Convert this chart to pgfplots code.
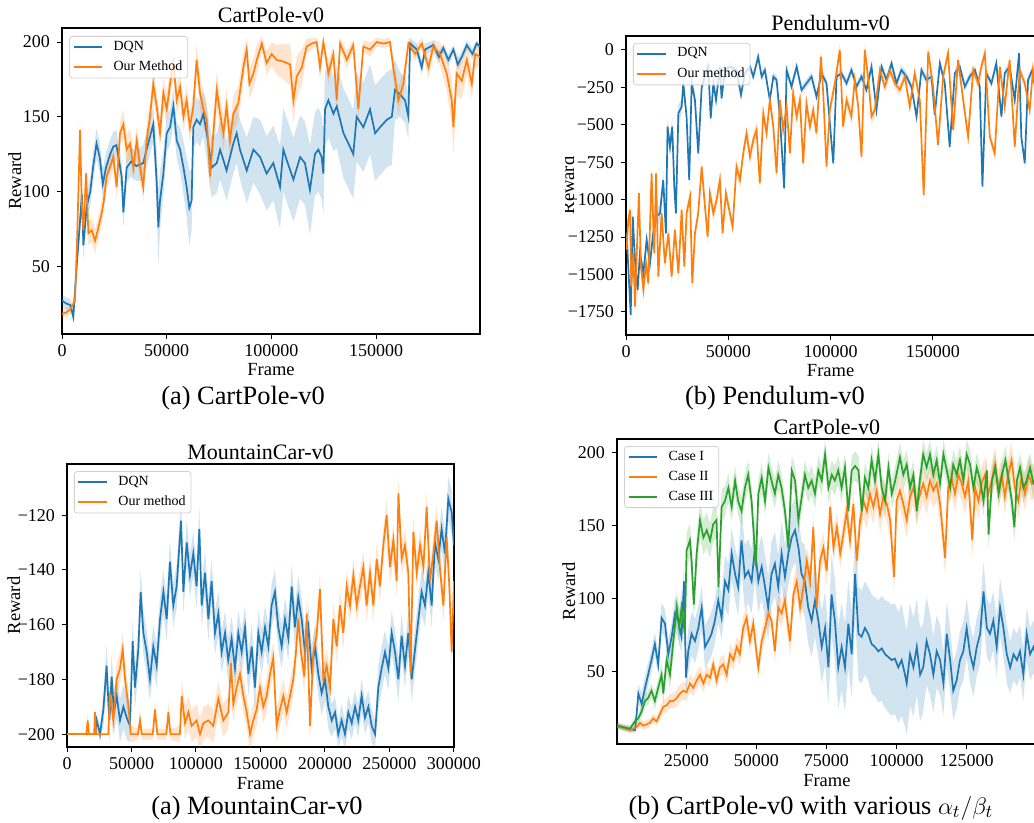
\documentclass[border=0pt]{standalone}
\usepackage{pgfplots}
\usepackage{pgfplotstable}
\pgfplotsset{compat=1.18}
\usepgfplotslibrary{fillbetween}
\usepackage{fontspec}
\setmainfont{Liberation Serif}
\definecolor{tabblue}{HTML}{1F77B4}
\definecolor{taborange}{HTML}{FF7F0E}
\definecolor{tabgreen}{HTML}{2CA02C}

% ---------------- CartPole (top left)
\pgfplotstableread{
x m e
0 27 4
2000 25 4
4000 24 4
5400 16 3
7000 50 8
8600 80 10
9500 98 10
10200 64 10
11800 90 10
13500 100 10
15000 118 10
16500 132 10
18000 123 10
19500 105 10
21000 116 10
23000 125 10
24500 130 10
26000 131 10
28500 110 10
29300 86 10
30900 116 10
33000 120 10
35500 117 10
38800 119 12
40400 128 12
43600 145 12
45200 107 20
46000 76 25
46800 94 20
48400 112 15
50000 139 12
51600 143 12
53200 157 12
54800 134 12
56400 128 15
58000 116 18
59500 103 20
60800 89 25
61900 94 20
62700 143 15
64300 148 15
65900 145 15
67500 152 15
69100 139 18
71500 116 20
73900 119 20
75500 128 20
78600 114 20
81800 132 20
83400 139 20
85000 128 20
88200 114 22
91400 128 22
94600 123 25
97700 112 25
100900 119 25
104100 103 28
105700 128 28
107300 121 28
110500 108 28
113700 123 28
116000 119 28
118400 101 30
120800 125 28
122400 128 28
124000 123 28
124800 112 28
125600 155 25
127200 161 25
129600 152 25
131200 157 28
134400 139 30
136800 132 30
139100 125 30
140700 150 30
143900 143 30
147100 155 30
149500 139 32
151900 143 32
155100 148 32
157500 150 32
159000 168 20
161400 165 15
163800 161 15
165400 150 15
166200 199 4
169400 195 4
171800 183 5
173400 195 4
177300 198 3
180000 190 4
182100 196 3
184500 188 4
186900 195 3
189000 185 4
190900 190 4
193300 198 3
196000 192 4
198000 199 2
199600 197 3
}\tabAdqn
\pgfplotstableread{
x m e
0 18 3
2000 19 3
4000 21 3
6200 27 4
7300 72 8
8600 141 8
9400 94 8
10200 74 8
11500 112 8
12600 72 8
14200 74 8
15800 67 8
17400 76 8
18900 85 8
20000 94 8
21300 110 8
22900 116 8
24500 123 8
26100 103 8
27700 139 8
29300 145 10
30900 128 10
32500 132 10
34100 116 10
35700 134 10
37300 116 10
38800 103 10
40400 134 10
42000 150 10
43600 172 10
45200 157 10
46800 139 10
48400 166 10
50000 155 10
51600 172 10
53200 186 10
54800 161 10
56400 170 10
58000 150 10
59500 161 10
61100 143 10
62700 157 10
64300 188 10
65900 166 12
67500 155 12
69100 148 12
70700 110 12
72000 134 12
73900 168 12
75500 152 12
77100 139 12
78600 157 12
80200 134 12
81800 152 12
84200 159 12
86600 183 10
88200 195 8
89500 172 10
91400 179 10
93000 188 10
95400 199 5
97700 186 8
100100 192 8
102500 188 10
105700 187 12
108900 185 14
110500 161 15
112100 177 14
114500 183 12
116800 197 5
119200 199 4
121600 200 3
123200 183 8
124800 200 3
127200 179 8
129600 192 6
131200 161 10
132800 199 4
136000 188 6
139100 198 4
141500 155 10
143900 197 4
147100 195 5
150300 200 3
153400 199 3
156600 200 3
158200 183 8
160600 161 10
163000 172 8
165400 199 4
168600 192 5
171800 199 4
175000 183 8
177300 197 5
180500 192 8
183700 179 12
186100 161 15
186900 143 18
188500 179 15
190900 174 12
193300 188 10
195700 172 10
197300 192 8
199600 190 8
}\tabAour

% ---------------- Pendulum
\pgfplotstableread{
x m e
300 -1225 60
1100 -1447 60
2300 -1770 60
3300 -1113 60
4400 -1403 60
5700 -1603 60
6800 -1358 60
8500 -1492 60
10100 -1269 60
11700 -1425 60
13300 -1225 60
15000 -1113 60
16600 -1091 60
18200 -868 60
19500 -1225 60
20300 -512 60
21500 -646 60
22600 -512 60
23600 -913 60
24400 -1091 60
25600 -423 60
27200 -378 50
28000 -223 50
29600 -445 50
30900 -868 50
32100 -223 50
33700 -334 50
35300 -690 50
37000 -245 40
38600 -178 40
40200 -111 40
41400 -456 40
42700 -223 40
44000 -334 40
45900 -111 40
46700 -323 40
48400 -134 30
50800 -111 30
54000 -134 30
56200 -300 30
58100 -156 30
60600 -111 30
62200 -178 30
64600 -45 30
66300 -178 30
67900 -134 30
70300 -334 30
72000 -178 30
73600 -200 30
75200 -445 30
77300 -924 30
78500 -134 30
80900 -245 30
83400 -111 30
85800 -267 30
88200 -223 30
90700 -178 30
93100 -312 30
95600 -156 30
98000 -223 30
101300 -757 30
102900 -178 30
105300 -156 30
107800 -223 30
110200 -134 30
112700 -245 30
115100 -178 30
117500 -267 30
120000 -111 30
122400 -401 30
124900 -111 30
127300 -200 30
129800 -89 30
132200 -223 30
134600 -134 30
137100 -178 30
139500 -245 30
142000 -445 30
144400 -134 30
146800 -200 30
149300 -178 30
150900 -434 30
153400 -89 30
155800 -223 30
158200 -646 30
160700 -156 30
163100 -111 30
165600 -245 30
168000 -178 30
170500 -134 30
172900 -245 30
174200 -913 30
176100 -156 30
178600 -223 30
181000 -89 30
183500 -445 30
185100 -156 30
187500 -111 30
190000 -334 30
192100 -22 30
193200 -579 30
194900 -757 30
196500 -200 30
198600 -134 30
200000 -250 30
}\tabBdqn
\pgfplotstableread{
x m e
300 -1336 50
1100 -1136 50
2000 -1069 50
2600 -1581 50
3600 -1358 50
4400 -1715 50
5200 -1381 50
6300 -957 50
7300 -1447 50
8500 -1603 50
9800 -1425 50
10900 -1559 50
12500 -824 50
13800 -1358 50
14700 -824 50
15800 -1514 50
17400 -1091 50
19000 -1425 50
20700 -1225 50
22300 -1514 50
23900 -1202 50
25600 -1492 50
27200 -1069 50
28500 -1447 50
29600 -1091 50
31300 -980 50
32400 -1559 50
33700 -1225 50
35300 -1091 50
37000 -779 50
38600 -1047 50
39900 -1247 50
41000 -957 50
42700 -1091 50
44300 -1002 50
45900 -868 50
47200 -1225 50
48800 -957 50
50800 -1091 50
52100 -1180 50
54000 -779 50
55700 -868 50
57300 -690 50
58900 -557 50
60600 -713 50
62200 -601 50
63800 -534 50
65400 -891 50
67100 -423 50
68700 -557 50
70300 -334 50
72000 -512 50
73600 -824 50
75200 -334 50
76800 -534 50
78500 -378 50
80100 -690 50
81700 -289 50
83400 -445 50
85000 -334 50
86600 -757 50
88200 -356 50
89900 -512 50
91500 -401 50
93100 -557 50
95300 -45 50
96400 -289 50
98000 -779 50
99600 -401 50
102100 -223 50
104500 0 50
106100 -512 50
107800 -334 50
110200 -445 50
111800 -200 50
113500 -378 50
115100 -713 50
116700 0 50
118300 -178 50
120000 -445 50
121600 -401 50
124100 -134 40
126500 -245 40
129000 -134 40
131400 -223 40
133800 -267 40
136300 -178 40
138700 -378 40
141100 -156 40
143600 -334 40
145500 -969 40
147700 -11 40
150100 -245 40
152500 -635 40
155000 -178 40
157400 -22 40
159900 -534 40
162300 -67 40
164800 -334 40
167200 -579 40
169700 -134 40
172100 -223 40
173700 -111 40
175400 -22 40
177800 -579 40
180200 -690 40
182700 -111 40
185100 -378 40
187500 -67 40
190000 -646 40
192400 -134 40
194900 -223 40
197300 -401 40
198900 -134 40
200000 -250 40
}\tabBour

% ---------------- MountainCar
\pgfplotstableread{
x m e
0 -200 0
22000 -200 0
23000 -195 3
25600 -200 3
28200 -191 6
30700 -175 8
32800 -195 8
34600 -179 8
36400 -192 8
38500 -186 8
41100 -195 8
43700 -190 8
46300 -194 8
48800 -197 6
50900 -166 8
52700 -183 8
55300 -169 8
57100 -148 8
59200 -163 8
61800 -170 8
64300 -180 8
66900 -168 8
69500 -175 8
72100 -158 8
74700 -148 8
77300 -158 8
79800 -137 8
82400 -153 8
85000 -146 8
88400 -122 8
90200 -148 8
92800 -130 8
95300 -142 8
97900 -134 8
100500 -146 8
102600 -125 8
104400 -153 8
107000 -141 8
109600 -158 8
112100 -144 8
114700 -163 8
117300 -156 8
119900 -170 8
122500 -163 8
125000 -173 8
127600 -165 8
130200 -176 8
132800 -163 8
135400 -170 8
138000 -161 8
140600 -178 8
143200 -168 8
145700 -183 8
148300 -163 8
150900 -170 8
153500 -161 8
156100 -168 8
158600 -153 8
161200 -148 8
163800 -161 8
166400 -168 8
169000 -158 8
171600 -165 8
174200 -146 8
176700 -161 8
179300 -150 8
181900 -158 8
184500 -170 8
187100 -161 8
189700 -176 8
192300 -168 8
194800 -178 8
197400 -185 8
200000 -180 8
202600 -190 8
205200 -195 6
207800 -192 6
210300 -200 5
212900 -195 6
215500 -200 5
218100 -192 6
220700 -196 6
223300 -190 6
225800 -195 6
228400 -186 6
231000 -194 6
233600 -190 6
236200 -197 6
238800 -200 5
241300 -183 8
243900 -176 8
246500 -170 8
249100 -176 8
251700 -163 8
254300 -170 8
256900 -180 8
259400 -164 8
262000 -175 8
264600 -163 8
267200 -180 8
269800 -169 8
272400 -158 8
274900 -148 8
277500 -153 8
280100 -141 8
282700 -153 8
285300 -130 8
287800 -136 8
290400 -125 8
293000 -134 8
295600 -114 8
298200 -119 8
300000 -131 8
}\tabCdqn
\pgfplotstableread{
x m e
0 -200 0
15000 -200 0
16000 -195 3
17000 -200 0
21000 -200 0
21700 -192 3
22500 -200 0
32000 -200 0
33300 -185 6
35900 -195 6
38500 -180 6
41100 -176 6
43200 -169 6
45000 -180 6
47500 -189 6
49400 -200 3
55000 -200 2
56600 -195 4
58000 -200 2
66500 -200 2
68200 -191 4
70000 -200 2
77000 -200 2
78600 -192 4
80200 -200 2
87500 -200 3
88900 -186 6
91500 -196 6
94100 -192 6
96600 -197 6
100500 -195 6
103100 -200 6
105700 -196 6
109600 -195 6
113400 -197 6
117300 -187 6
121200 -195 6
125100 -192 6
127100 -174 6
128900 -189 6
131500 -183 6
134100 -178 6
136700 -186 6
139300 -192 6
141900 -200 6
144400 -195 6
147000 -191 6
149600 -183 6
152200 -190 6
154800 -186 6
157400 -178 6
159900 -172 6
162500 -197 6
165100 -191 6
167700 -186 6
170300 -192 6
172900 -186 6
175400 -180 6
177500 -170 6
179300 -158 6
181400 -170 6
184000 -179 6
185800 -156 6
188400 -197 6
191000 -170 6
193500 -164 6
196100 -147 6
198700 -180 6
201300 -175 6
203900 -183 6
206500 -158 6
209100 -168 6
211600 -153 6
214200 -163 6
216800 -146 6
219400 -153 6
222000 -142 6
224600 -153 6
227100 -146 6
229700 -139 6
232300 -153 6
234900 -141 6
237500 -153 6
240100 -136 6
242600 -146 6
245200 -131 6
247800 -120 6
250400 -139 6
253000 -129 6
255600 -144 6
256900 -112 6
259400 -136 6
262000 -131 6
264600 -141 6
266400 -178 6
268500 -126 6
271100 -141 6
273700 -131 6
276300 -139 6
278800 -117 6
281400 -144 6
284000 -134 6
286600 -122 6
289200 -140 6
291800 -153 6
294300 -128 6
296400 -146 6
298200 -170 6
300000 -144 6
}\tabCour

% ---------------- CartPole cases
\pgfplotstableread{
x m e
300 13 2
3700 11 2
6700 10 2
7300 21 4
7900 35 6
9100 28 8
10300 39 8
11400 48 8
12600 58 8
13800 69 8
15000 55 8
16200 87 10
17400 83 10
18600 62 10
19800 74 10
21000 90 12
22100 85 12
23300 74 12
24200 112 14
24900 46 14
25700 64 15
26900 76 15
28100 71 15
29300 80 15
30500 94 15
31700 67 15
32800 71 15
34000 76 15
35200 85 15
36400 99 15
37600 87 15
38800 112 18
40000 106 18
41200 131 18
42400 117 18
43500 108 20
44700 140 22
45900 115 22
47100 119 22
48300 112 22
49500 135 22
50700 112 22
51900 122 22
53100 108 22
54200 94 22
55400 117 22
56600 124 22
57800 108 22
59000 131 22
60200 115 22
61400 131 22
62600 142 22
63800 147 22
65000 135 22
66100 117 22
67300 112 25
68500 94 25
69700 85 25
70900 99 25
72100 85 25
73300 67 25
74500 80 25
75700 53 25
76800 103 28
78000 85 28
79200 53 28
80400 67 30
81600 53 30
82800 83 30
84000 62 30
85200 117 30
86400 76 32
87500 74 32
88700 80 32
89900 76 32
91100 69 34
92300 67 34
93500 64 35
94700 66 36
95900 62 37
97100 60 38
98300 58 38
99400 59 38
100600 53 38
101800 58 38
103000 48 36
103600 42 36
104800 62 35
106000 53 34
107200 67 33
108400 48 32
109500 53 30
110700 71 30
111900 62 28
113100 48 26
114300 64 25
115500 58 24
116700 42 22
117900 76 22
119100 58 22
120200 37 20
121400 44 20
122600 58 20
123800 64 20
125000 80 20
126200 62 20
127400 53 20
128600 67 20
129800 76 20
131000 105 20
132200 80 20
133300 76 20
134500 85 20
135700 67 20
136900 94 20
138100 80 20
139300 62 20
140500 53 18
141700 62 18
142900 58 18
144000 64 18
145200 48 18
146400 76 18
147600 62 18
148800 67 18
150000 60 18
}\tabDone
\pgfplotstableread{
x m e
300 13 2
4900 10 2
7300 12 2
8500 15 3
9700 13 3
10900 14 3
12000 15 3
13200 18 3
14400 16 3
15600 21 4
16800 26 4
18000 27 5
19200 30 5
20400 30 5
21600 32 6
22700 35 6
23900 37 6
25100 36 6
26300 42 6
27500 39 6
28700 44 6
29900 48 6
31100 42 6
32300 48 6
33500 46 6
34600 55 6
35800 44 6
37000 53 6
38200 55 7
39400 48 7
40600 62 7
41800 58 7
43000 67 7
44100 62 8
45300 80 8
46500 87 8
47700 71 8
48900 83 8
50100 62 8
50700 53 8
51900 71 8
53100 80 8
54300 90 8
55400 85 8
56600 64 8
57800 94 9
59000 90 9
60200 99 9
61400 80 10
62000 71 10
63200 103 10
64400 112 10
65600 94 10
66800 108 10
68000 126 10
69200 112 10
70300 149 10
71500 94 10
72700 126 10
73900 135 10
75100 119 10
76300 163 10
77500 135 10
78700 149 10
79900 131 10
81000 144 10
82200 160 10
83400 140 10
84600 165 10
85800 126 10
87000 154 12
88200 167 12
89400 160 12
90500 172 12
91700 163 12
92900 174 12
94100 158 12
95300 170 12
96500 165 12
97700 154 12
99100 115 12
100000 167 12
101200 174 12
102400 165 12
103600 154 12
104800 170 12
106000 176 12
107200 163 12
108400 172 12
109500 179 12
110700 170 12
111900 181 12
113100 174 12
114300 179 12
115500 165 12
117300 128 12
118400 176 12
119600 183 12
120800 172 12
122000 185 12
123200 179 12
124400 170 12
125600 181 12
127000 140 12
128000 176 12
129200 167 12
130300 179 12
131500 185 12
132700 172 12
133900 181 12
135100 192 12
136300 176 12
137500 185 12
138600 170 12
139800 185 12
141000 195 12
142200 176 12
143400 167 12
144600 183 12
145800 172 12
147000 185 12
148200 179 12
150000 183 12
}\tabDtwo
\pgfplotstableread{
x m e
300 13 2
4900 11 2
6700 16 3
7900 18 3
9100 23 4
10300 30 4
11400 32 5
12600 37 5
13800 30 6
15000 39 6
16200 48 8
16800 35 8
18000 58 8
19200 48 10
20400 71 10
21600 94 12
22500 80 12
23300 94 12
24500 76 12
25100 133 12
26300 140 12
26900 126 12
27700 96 12
28700 131 12
29900 154 12
31100 142 12
32300 147 12
33500 140 12
34600 151 12
35800 154 12
36500 108 12
37600 163 12
38800 167 10
40000 176 10
41200 163 10
42400 181 10
43500 167 10
44700 160 10
45900 176 10
47100 185 10
48300 167 10
49800 122 10
50700 172 10
51900 183 10
53100 167 10
54300 190 10
55400 181 10
56600 172 10
57800 185 10
59000 176 10
60200 160 10
61400 135 10
62600 188 10
63800 181 10
65000 154 10
66200 170 10
67300 185 10
68500 176 10
69700 181 10
70900 172 10
72100 188 10
73300 181 10
74500 199 10
75700 176 10
76900 185 10
78000 181 10
79200 188 10
80400 176 10
81600 190 10
82800 160 10
84000 188 10
85200 191 10
86400 188 10
87600 160 10
88700 183 10
89900 176 10
91100 195 10
92300 181 10
93500 199 10
94700 176 10
95900 167 10
97100 190 10
98300 172 10
99500 181 10
101200 197 10
102400 185 10
103600 192 10
104800 176 10
106000 185 10
107200 160 10
108400 183 10
109500 199 10
110700 190 10
111900 199 10
113100 185 10
114300 195 10
115500 179 10
116700 199 10
117900 188 10
119100 176 10
120200 192 10
121400 185 10
122600 195 10
123800 181 10
125000 199 10
126200 192 10
127400 176 10
128600 190 10
129800 181 10
131000 167 10
132200 188 10
132800 144 10
134000 181 10
135200 190 10
136400 172 10
137600 185 10
138800 195 10
140000 181 10
141100 167 10
142000 149 10
142900 181 10
144000 190 10
145200 176 10
146400 181 10
147600 190 10
148800 179 10
150000 181 10
}\tabDthree

\newcommand{\band}[3]{%
  \addplot[draw=none, forget plot, name path=#3u] table[x=x, y expr=\thisrow{m}+\thisrow{e}] {#1};
  \addplot[draw=none, forget plot, name path=#3l] table[x=x, y expr=\thisrow{m}-\thisrow{e}] {#1};
  \addplot[fill=#2, fill opacity=0.2, draw=none, forget plot] fill between[of=#3u and #3l];
}

\pgfplotsset{
  rl/.style={
    scale only axis,
    scaled x ticks=false, scaled y ticks=false,
    tick pos=left,
    tick align=outside,
    major tick length=2.5pt,
    axis line style={line width=0.55pt},
    every tick/.style={black, line width=0.5pt},
    tick label style={font=\fontsize{9}{10}\selectfont},
    xticklabel style={yshift=1pt},
    label style={font=\fontsize{9.25}{11}\selectfont},
    every axis x label/.style={at={(axis description cs:0.5,0)}, anchor=base, yshift=-21pt, font=\fontsize{9.25}{11}\selectfont},
    every axis title/.style={at={(axis description cs:0.5,1)}, anchor=base, yshift=2.5pt, font=\fontsize{11}{12}\selectfont},
    legend cell align=left,
    legend style={draw=black!18, rounded corners=1.5pt, fill=white, fill opacity=0.8, text opacity=1,
      font=\fontsize{7}{8}\selectfont, inner xsep=1.5pt, inner ysep=1pt, row sep=1.5pt,
      nodes={inner sep=1.2pt}},
    legend image code/.code={\draw[##1, line width=1pt] (0.6pt,0pt) -- (15pt,0pt); \path (19pt,0pt);},
  },
  dl/.style={line width=0.85pt},
}

\begin{document}
\begin{tikzpicture}
% ===== (a) CartPole-v0 =====
\begin{axis}[rl, at={(31pt,-167pt)}, anchor=south west, width=209pt, height=153pt,
  xmin=0, xmax=199600, ymin=4.6, ymax=209.4,
  xtick={0,50000,100000,150000}, xticklabels={0,50000,100000,150000},
  ytick={50,100,150,200}, yticklabels={50,100,150,200},
  title={CartPole-v0}, xlabel={Frame}, ylabel={Reward},
  every axis y label/.style={at={(axis description cs:-0.098,0.5)}, rotate=90, anchor=base, font=\fontsize{9.25}{11}\selectfont},
  legend style={at={(axis description cs:0.017,0.974)}, anchor=north west}]
\band{\tabAdqn}{tabblue}{aa}
\addplot[dl, tabblue] table[x=x, y=m] {\tabAdqn};
\band{\tabAour}{taborange}{ab}
\addplot[dl, taborange] table[x=x, y=m] {\tabAour};
\legend{DQN, Our Method}
\end{axis}

% ===== (b) Pendulum-v0 =====
\begin{axis}[rl, at={(313pt,-167.5pt)}, anchor=south west, width=204.6pt, height=149.5pt,
  xmin=0, xmax=200000, ymin=-1904, ymax=93.5,
  xtick={0,50000,100000,150000}, xticklabels={0,50000,100000,150000},
  ytick={-1750,-1500,-1250,-1000,-750,-500,-250,0},
  yticklabels={−1750,−1500,−1250,−1000,−750,−500,−250,0},
  title={Pendulum-v0}, xlabel={Frame},
  legend style={at={(axis description cs:0.017,0.977)}, anchor=north west}]
\band{\tabBdqn}{tabblue}{ba}
\addplot[dl, tabblue] table[x=x, y=m] {\tabBdqn};
\band{\tabBour}{taborange}{bb}
\addplot[dl, taborange] table[x=x, y=m] {\tabBour};
\legend{DQN, Our method}
\end{axis}
\begin{scope}
\clip (282.5pt,0pt) rectangle (300pt,-200pt);
\node[rotate=90, anchor=base, font=\fontsize{9.25}{11}\selectfont] at (287pt,-92.75pt) {Reward};
\end{scope}

% ===== (a) MountainCar-v0 =====
\begin{axis}[rl, at={(33.5pt,-373.5pt)}, anchor=south west, width=193.5pt, height=141.5pt,
  xmin=0, xmax=300000, ymin=-204.7, ymax=-101.3,
  xtick={0,50000,100000,150000,200000,250000,300000},
  xticklabels={0,50000,100000,150000,200000,250000,300000},
  ytick={-200,-180,-160,-140,-120}, yticklabels={−200,−180,−160,−140,−120},
  title={MountainCar-v0}, xlabel={Frame}, ylabel={Reward},
  every axis y label/.style={at={(axis description cs:-0.121,0.5)}, rotate=90, anchor=base, font=\fontsize{9.25}{11}\selectfont},
  legend style={at={(axis description cs:0.018,0.975)}, anchor=north west}]
\band{\tabCdqn}{tabblue}{ca}
\addplot[dl, tabblue] table[x=x, y=m] {\tabCdqn};
\band{\tabCour}{taborange}{cb}
\addplot[dl, taborange] table[x=x, y=m] {\tabCour};
\legend{DQN, Our method}
\end{axis}

% ===== (b) CartPole-v0 with various alpha/beta =====
\begin{axis}[rl, at={(308.5pt,-372pt)}, anchor=south west, width=209.9pt, height=152.5pt,
  xmin=300, xmax=150000, ymin=0.5, ymax=209.5,
  xtick={25000,50000,75000,100000,125000}, xticklabels={25000,50000,75000,100000,125000},
  ytick={0,50,100,150,200}, yticklabels={0,50,100,150,200},
  title={CartPole-v0}, xlabel={Frame}, ylabel={Reward},
  every axis y label/.style={at={(axis description cs:-0.100,0.5)}, rotate=90, anchor=base, font=\fontsize{9.25}{11}\selectfont},
  legend style={at={(axis description cs:0.017,0.977)}, anchor=north west}]
\band{\tabDone}{tabblue}{da}
\addplot[dl, tabblue] table[x=x, y=m] {\tabDone};
\band{\tabDtwo}{taborange}{db}
\addplot[dl, taborange] table[x=x, y=m] {\tabDtwo};
\band{\tabDthree}{tabgreen}{dc}
\addplot[dl, tabgreen] table[x=x, y=m] {\tabDthree};
\legend{Case I, Case II, Case III}
\end{axis}

% captions
\node[font=\fontsize{13.2}{15}\selectfont] at (121.5pt,-199pt) {(a) CartPole-v0};
\node[font=\fontsize{13.2}{15}\selectfont] at (387.5pt,-199pt) {(b) Pendulum-v0};
\node[font=\fontsize{13.2}{15}\selectfont] at (128.5pt,-404pt) {(a) MountainCar-v0};
\node[font=\fontsize{13.2}{15}\selectfont] at (405.5pt,-404pt) {(b) CartPole-v0 with various $\alpha_t/\beta_t$};

\pgfresetboundingbox
\path[use as bounding box] (0pt,0pt) rectangle (517pt,-411.5pt);
\end{tikzpicture}
\end{document}
